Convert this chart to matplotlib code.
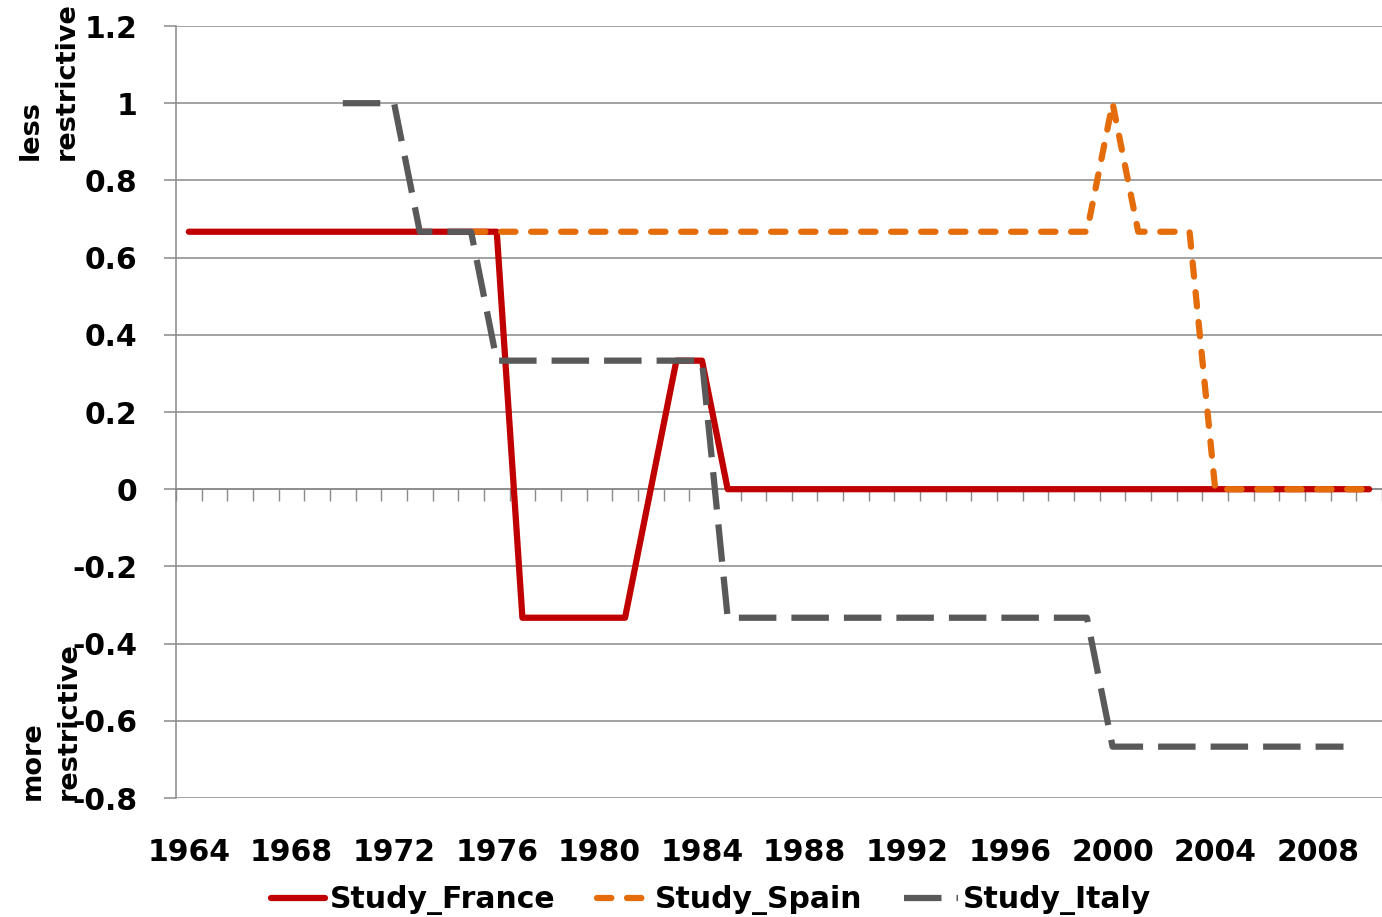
import numpy as np
import matplotlib
matplotlib.use("Agg")
import matplotlib.pyplot as plt

nan = np.nan
years = list(range(1964, 2011))
france = [0.667, 0.667, 0.667, 0.667, 0.667, 0.667, 0.667, 0.667, 0.667, 0.667,
          0.667, 0.667, 0.667, -0.333, -0.333, -0.333, -0.333, -0.333, 0.0, 0.333,
          0.333, 0.0, 0.0, 0.0, 0.0, 0.0, 0.0, 0.0, 0.0, 0.0,
          0.0, 0.0, 0.0, 0.0, 0.0, 0.0, 0.0, 0.0, 0.0, 0.0,
          0.0, 0.0, 0.0, 0.0, 0.0, 0.0, 0.0]
spain = [nan, nan, nan, nan, nan, nan, nan, nan, nan, nan,
         nan, 0.667, 0.667, 0.667, 0.667, 0.667, 0.667, 0.667, 0.667, 0.667,
         0.667, 0.667, 0.667, 0.667, 0.667, 0.667, 0.667, 0.667, 0.667, 0.667,
         0.667, 0.667, 0.667, 0.667, 0.667, 0.667, 1.0, 0.667, 0.667, 0.667,
         0.0, 0.0, 0.0, 0.0, 0.0, 0.0, 0.0]
italy = [nan, nan, nan, nan, nan, nan, 1.0, 1.0, 1.0, 0.667,
         0.667, 0.667, 0.333, 0.333, 0.333, 0.333, 0.333, 0.333, 0.333, 0.333,
         0.333, -0.333, -0.333, -0.333, -0.333, -0.333, -0.333, -0.333, -0.333, -0.333,
         -0.333, -0.333, -0.333, -0.333, -0.333, -0.333, -0.667, -0.667, -0.667, -0.667,
         -0.667, -0.667, -0.667, -0.667, -0.667, -0.667, nan]
series_names = ["Study_France", "Study_Spain", "Study_Italy"]
year_labels = ["1964", "1968", "1972", "1976", "1980", "1984", "1988",
               "1992", "1996", "2000", "2004", "2008"]
yticks = [-0.8, -0.6, -0.4, -0.2, 0.0, 0.2, 0.4, 0.6, 0.8, 1.0, 1.2]
ytick_labels = ["-0.8", "-0.6", "-0.4", "-0.2", "0", "0.2", "0.4", "0.6", "0.8", "1", "1.2"]

plt.rcParams['font.family'] = ['DejaVu Sans']
plt.rcParams['font.weight'] = 'bold'

W, H = 1382, 917
fig = plt.figure(figsize=(W / 100, H / 100), dpi=100)
ax = fig.add_axes([176 / W, 119 / H, (W - 176) / W, (798 - 26) / H])

x = np.arange(len(years))
grey = '#898989'
lw = 4.5
l1, = ax.plot(x, france, color='#C00000', lw=lw, solid_capstyle='round', zorder=3)
l2, = ax.plot(x, spain, color='#E46C0A', lw=lw, linestyle=(0, (2.3, 2.5)),
              dash_capstyle='round', zorder=4)
l3, = ax.plot(x, italy, color='#595959', lw=lw, linestyle=(0, (6.0, 2.4)),
              dash_capstyle='butt', zorder=5)

ax.set_xlim(-0.5, len(years) - 0.5)
ax.set_ylim(-0.8, 1.2)
ax.set_yticks(yticks, labels=ytick_labels)
ax.yaxis.grid(True, color=grey, lw=1.1)
ax.set_axisbelow(True)
ax.tick_params(axis='y', length=9, width=1.1, color=grey, pad=19, labelsize=21.5)

for s in ['top', 'right']:
    ax.spines[s].set_visible(False)
ax.spines['left'].set_color(grey)
ax.spines['left'].set_linewidth(1.1)
ax.spines['bottom'].set_position(('data', 0))
ax.spines['bottom'].set_color(grey)
ax.spines['bottom'].set_linewidth(1.1)
ax.set_xticks(np.arange(-0.5, len(years), 1.0))
ax.tick_params(axis='x', length=8.5, width=1.0, color=grey, direction='out',
               labelbottom=False)

sec = ax.secondary_xaxis(0)
label_pos = [years.index(int(y)) for y in year_labels]
sec.set_xticks(label_pos, labels=year_labels)
sec.tick_params(length=0, pad=29, labelsize=21.5)
sec.spines['bottom'].set_visible(False)

fig.text(49 / W, (H - 160) / H, "less\nrestrictive", rotation=90, ha='center',
         va='bottom', multialignment='left', fontsize=19.5, linespacing=1.5)
fig.text(51 / W, (H - 800) / H, "more\nrestrictive", rotation=90, ha='center',
         va='bottom', multialignment='left', fontsize=19.5, linespacing=1.5)

fig.legend([l1, l2, l3], series_names, loc='center',
           bbox_to_anchor=(711 / W, 17 / H), ncol=3, frameon=False, fontsize=21.5,
           handlelength=1.8, handletextpad=0.15, columnspacing=1.4)

fig.savefig("out.png", dpi=100)
